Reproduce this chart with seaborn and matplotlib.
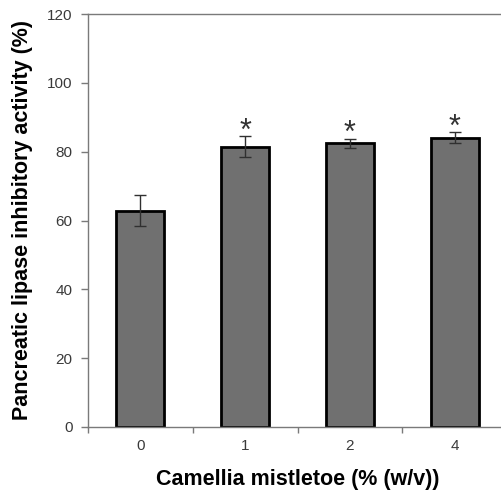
import pandas as pd
import numpy as np
import matplotlib
matplotlib.use("Agg")
import matplotlib.pyplot as plt
import seaborn as sns

# --- data ---
concentrations = ["0", "1", "2", "4"]
inhibition = [62.8, 81.5, 82.4, 84.0]
sd = [4.5, 3.0, 1.3, 1.6]
significant = ["", "*", "*", "*"]

df = pd.DataFrame({"conc": concentrations, "activity": inhibition})

sns.set_style("white")
plt.rcParams["font.family"] = ["Liberation Sans", "DejaVu Sans"]

fig = plt.figure(figsize=(5.02, 4.91), dpi=100)
ax = fig.add_axes([88 / 502, 64 / 491, 419 / 502, 413 / 491])

sns.barplot(data=df, x="conc", y="activity", color="#707070", width=0.46,
            edgecolor="black", linewidth=2, saturation=1, errorbar=None, ax=ax)

xpos = np.arange(len(concentrations))
ax.errorbar(xpos, inhibition, yerr=sd, fmt="none", ecolor="#303030",
            elinewidth=1, capsize=4, capthick=1)

# significance marks above the error bars
for x, v, e, s in zip(xpos, inhibition, sd, significant):
    if s:
        ax.text(x, v + e - 1.0, s, ha="center", va="baseline", fontsize=22,
                color="#333333")

ax.set_ylim(0, 120)
ax.set_xlim(-0.5, len(concentrations) - 0.5)
ax.set_yticks(range(0, 121, 20))
ax.set_xticks(xpos)
ax.set_xticks(np.arange(-0.5, len(concentrations) - 0.4, 1), minor=True)

for side in ["left", "top", "bottom"]:
    ax.spines[side].set_color("#7a7a7a")
    ax.spines[side].set_linewidth(1)
ax.spines["right"].set_visible(False)

ax.tick_params(axis="y", which="major", direction="out", length=5, width=1,
               color="#7a7a7a", labelsize=11, labelcolor="#3a3a3a", pad=6,
               left=True)
ax.tick_params(axis="x", which="major", length=0, labelsize=11,
               labelcolor="#3a3a3a", pad=9)
ax.tick_params(axis="x", which="minor", direction="out", length=4, width=1,
               color="#7a7a7a", bottom=True)

ax.set_xlabel("Camellia mistletoe (% (w/v))", fontsize=15.5, fontweight="bold",
              labelpad=11, color="black")
ax.set_ylabel("Pancreatic lipase inhibitory activity (%)", fontsize=15.5,
              fontweight="bold", labelpad=10, color="black")

fig.savefig("out.png", dpi=100)
